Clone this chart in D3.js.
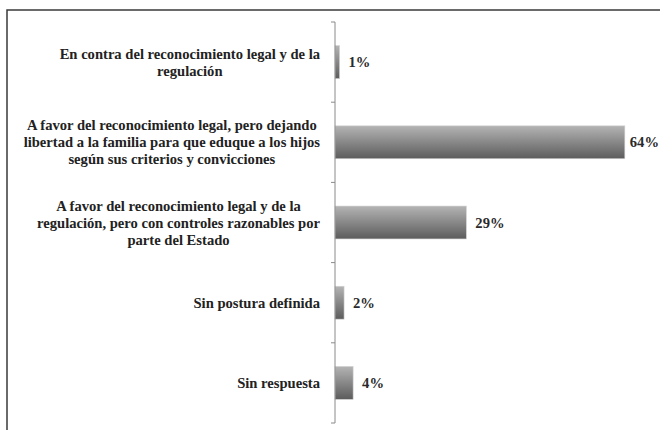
<!DOCTYPE html>
<html><head><meta charset="utf-8">
<script src="https://cdn.jsdelivr.net/npm/d3@7"></script>
<style>body{margin:0;background:#fff}svg{display:block}</style>
</head><body>
<script>
const categories = [
  ["En contra del reconocimiento legal y de la", "regulación"],
  ["A favor del reconocimiento legal, pero dejando", "libertad a la familia para que eduque a los hijos", "según sus criterios y convicciones"],
  ["A favor del reconocimiento legal y de la", "regulación, pero con controles razonables por", "parte del Estado"],
  ["Sin postura definida"],
  ["Sin respuesta"]
];
const values = [1, 64, 29, 2, 4];
const valueLabels = ["1%", "64%", "29%", "2%", "4%"];

const W = 660, H = 430;
const svg = d3.select("body").append("svg").attr("width", W).attr("height", H);

const defs = svg.append("defs");
const g1 = defs.append("linearGradient").attr("id","barg").attr("x1",0).attr("y1",0).attr("x2",0).attr("y2",1);
g1.append("stop").attr("offset","0%").attr("stop-color","#b4b4b4");
g1.append("stop").attr("offset","45%").attr("stop-color","#8c8c8c");
g1.append("stop").attr("offset","100%").attr("stop-color","#5c5c5c");

// frame
svg.append("path").attr("d", "M7,430 V10 H660").attr("fill","none").attr("stroke","#3a3a3a").attr("stroke-width",1.5);

const idx = d3.range(values.length);
const y = d3.scaleBand().domain(idx).range([22, 423]).paddingInner(0.59).paddingOuter(0.295);
const x = d3.scaleLinear().domain([0, 70]).range([335, 652]);

const fontFam = "'Liberation Serif', 'DejaVu Serif', serif";
const fs = 14.6;

// bars
svg.append("g").selectAll("rect").data(idx).join("rect")
  .attr("x", x(0)).attr("y", d => y(d))
  .attr("width", d => x(values[d]) - x(0)).attr("height", y.bandwidth())
  .attr("fill", "url(#barg)").attr("stroke", "#d0d0d0").attr("stroke-width", 0.6);

// axis line and ticks
const step = y.step();
const bounds = idx.map(d => y(d) - step * y.paddingInner() / 2).concat([y(idx[idx.length-1]) + y.bandwidth() + step * y.paddingInner() / 2]);
const ax = svg.append("g").attr("stroke", "#8a8a8a").attr("stroke-width", 1);
ax.append("line").attr("x1", x(0)).attr("x2", x(0)).attr("y1", bounds[0]).attr("y2", bounds[bounds.length-1]);
ax.selectAll("line.t").data(bounds).join("line").attr("class","t")
  .attr("x1", x(0) - 4).attr("x2", x(0)).attr("y1", d => d).attr("y2", d => d);

// value labels
svg.append("g").selectAll("text").data(idx).join("text")
  .attr("y", d => y(d) + y.bandwidth()/2)
  .attr("dy", "0.35em").attr("font-family", fontFam).attr("font-size", fs).attr("font-weight", "bold")
  .attr("fill", "#2a2a2a").text(d => valueLabels[d])
  .each(function(d){
    const w = this.getComputedTextLength();
    d3.select(this).attr("x", Math.min(x(values[d]) + 9, W - w - 1));
  });

// category labels
const lineH = 17, rightEdge = 320;
const cg = svg.append("g").attr("font-family", fontFam).attr("font-size", fs).attr("font-weight","bold").attr("fill","#222");
idx.forEach(d => {
  const lines = categories[d];
  const t = cg.append("text").attr("text-anchor","middle");
  const cy = y(d) + y.bandwidth()/2;
  lines.forEach((s, i) => {
    t.append("tspan").attr("y", cy + (i - (lines.length-1)/2) * lineH).attr("dy","0.35em").text(s);
  });
  let maxW = 0;
  t.selectAll("tspan").each(function(){ maxW = Math.max(maxW, this.getComputedTextLength()); });
  t.selectAll("tspan").attr("x", rightEdge - maxW/2);
});
</script>
</body></html>
